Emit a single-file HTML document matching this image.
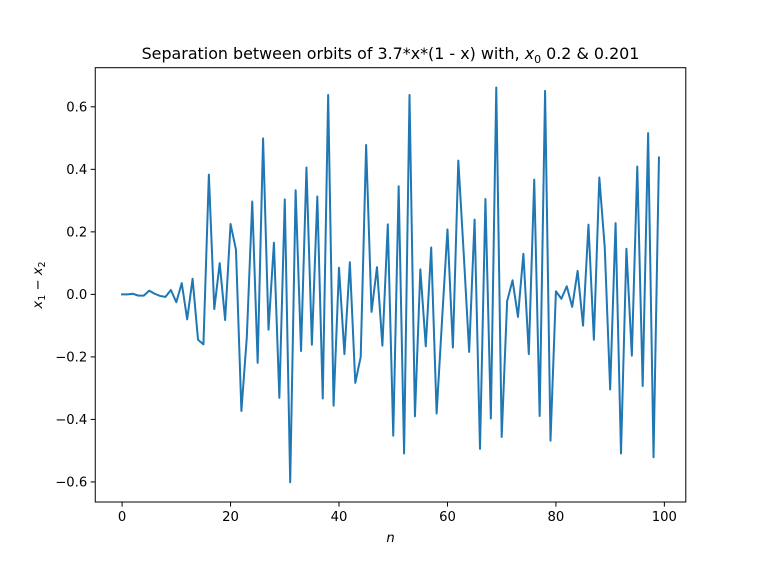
<!DOCTYPE html>
<html><head><meta charset="utf-8"><style>
body{margin:0;background:#fff}
svg text{font-family:"DejaVu Sans","Liberation Sans",sans-serif;fill:#000}
</style></head><body>
<svg id="chart" width="762" height="564" xmlns="http://www.w3.org/2000/svg">
<rect width="762" height="564" fill="#fff"/>
<text x="390.5" y="59" font-size="15.9" text-anchor="middle">Separation between orbits of 3.7*x*(1 - x) with, <tspan font-style="italic">x</tspan><tspan font-size="11" dy="4">0</tspan><tspan dy="-4"> 0.2 &amp; 0.201</tspan></text>
<g id="plot"></g>
<text x="390.5" y="542" font-size="13.2" text-anchor="middle" font-style="italic">n</text>
<text transform="translate(42,285) rotate(-90)" font-size="13.2" text-anchor="middle"><tspan font-style="italic">x</tspan><tspan font-size="9.5" dy="3">1</tspan><tspan dy="-3"> − </tspan><tspan font-style="italic">x</tspan><tspan font-size="9.5" dy="3">2</tspan></text>
</svg>
<script>
const nValues = Array.from({length:100},(_, i)=>i);
const separation = [0.00,0.00,0.002,-0.004,-0.004,0.012,0.002,-0.005,-0.008,0.014,
-0.025,0.036,-0.08,0.05,-0.145,-0.16,0.383,-0.047,0.10,-0.082,
0.225,0.143,-0.373,-0.136,0.297,-0.219,0.499,-0.113,0.165,-0.331,
0.304,-0.601,0.333,-0.181,0.406,-0.161,0.313,-0.333,0.638,-0.356,
0.085,-0.191,0.103,-0.283,-0.2,0.478,-0.056,0.087,-0.164,0.224,
-0.452,0.346,-0.509,0.638,-0.39,0.08,-0.166,0.15,-0.381,-0.083,
0.208,-0.17,0.428,0.13,-0.184,0.239,-0.494,0.305,-0.397,0.662,
-0.456,-0.022,0.045,-0.072,0.13,-0.191,0.367,-0.389,0.651,-0.468,
0.01,-0.014,0.026,-0.04,0.075,-0.1,0.223,-0.145,0.374,0.151,
-0.304,0.228,-0.509,0.146,-0.196,0.409,-0.293,0.516,-0.521,0.438];
const xTicks = [0,20,40,60,80,100];
const yTicks = [-0.6,-0.4,-0.2,0.0,0.2,0.4,0.6];

const NS="http://www.w3.org/2000/svg";
const L=95.25,R=685.8,T=67.7,B=502;
const xmin0=Math.min(...nValues),xmax0=Math.max(...nValues);
const xm=(xmax0-xmin0)*0.05, xmin=xmin0-xm, xmax=xmax0+xm;
const ymin0=Math.min(...separation),ymax0=Math.max(...separation);
const ym=(ymax0-ymin0)*0.05, ymin=ymin0-ym, ymax=ymax0+ym;
const xs=v=>L+(v-xmin)/(xmax-xmin)*(R-L);
const ys=v=>B-(v-ymin)/(ymax-ymin)*(B-T);
const g=document.getElementById('plot');
function mk(t,a){const e=document.createElementNS(NS,t);for(const k in a)e.setAttribute(k,a[k]);g.appendChild(e);return e;}
const line=mk('polyline',{points:nValues.map((n,i)=>xs(n).toFixed(2)+','+ys(separation[i]).toFixed(2)).join(' '),fill:'none',stroke:'#1f77b4','stroke-width':2,'stroke-linejoin':'round','stroke-linecap':'square'});


const frame=mk('rect',{x:L,y:T,width:R-L,height:B-T,fill:'none',stroke:'#000','stroke-width':1});


xTicks.forEach(v=>{
  const x=xs(v);
  const t=mk('line',{x1:x,x2:x,y1:B,y2:B+4.6,stroke:'#000','stroke-width':1});
  
  
  const lb=mk('text',{x:x,y:B+19,'font-size':13.2,'text-anchor':'middle'});
  lb.textContent=String(v);
  
  
});
yTicks.forEach(v=>{
  const y=ys(v);
  const t=mk('line',{x1:L-4.6,x2:L,y1:y,y2:y,stroke:'#000','stroke-width':1});
  
  
  const lb=mk('text',{x:L-8,y:y+4.8,'font-size':13.2,'text-anchor':'end'});
  lb.textContent=(v<0?'−':'')+Math.abs(v).toFixed(1);
  
  
});
</script>
</body></html>
